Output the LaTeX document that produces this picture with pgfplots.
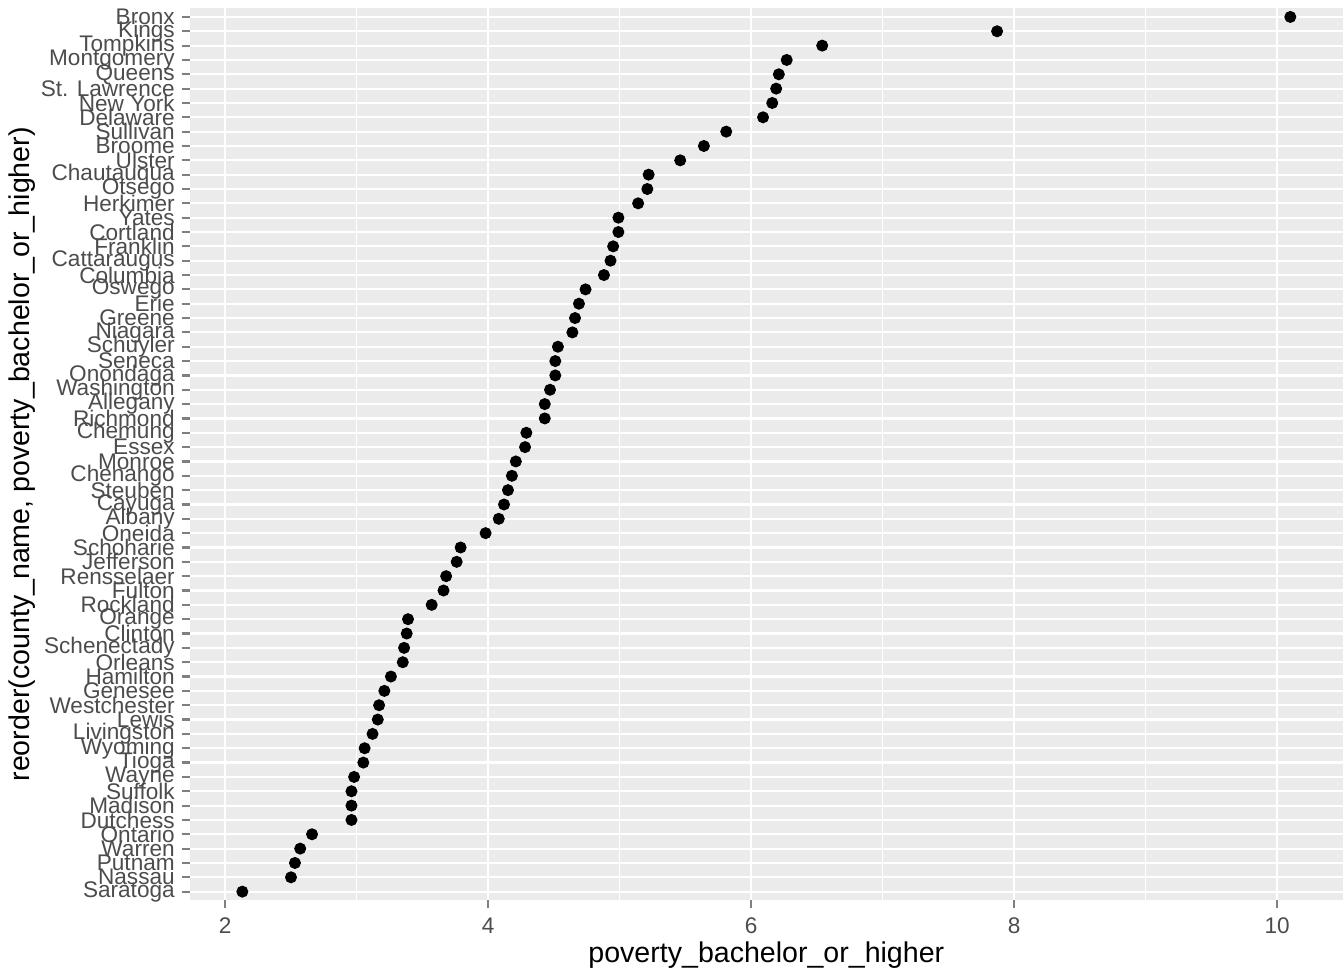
\documentclass[border=0pt]{standalone}
\usepackage{pgfplots}
\pgfplotsset{compat=1.18}
\usepackage{fontspec}
\setmainfont{Liberation Sans}
\definecolor{panel}{gray}{0.92}
\definecolor{tick}{gray}{0.30}
\begin{document}
\begin{tikzpicture}
\begin{axis}[
  scale only axis, width=423.75pt, height=327.75pt,
  xmin=1.73, xmax=10.50, ymin=0.4, ymax=62.6,
  axis background/.style={fill=panel},
  axis line style={draw=none},
  xtick={2,4,6,8,10}, minor xtick={3,5,7,9},
  xtick pos=bottom, ytick pos=left,
  ytick={1,...,62},
  yticklabels={Saratoga,Nassau,Putnam,Warren,Ontario,Dutchess,Madison,Suffolk,Wayne,Tioga,Wyoming,Livingston,Lewis,Westchester,Genesee,Hamilton,Orleans,Schenectady,Clinton,Orange,Rockland,Fulton,Rensselaer,Jefferson,Schoharie,Oneida,Albany,Cayuga,Steuben,Chenango,Monroe,Essex,Chemung,Richmond,Allegany,Washington,Onondaga,Seneca,Schuyler,Niagara,Greene,Erie,Oswego,Columbia,Cattaraugus,Franklin,Cortland,Yates,Herkimer,Otsego,Chautauqua,Ulster,Broome,Sullivan,Delaware,New York,St. Lawrence,Queens,Montgomery,Tompkins,Kings,Bronx},
  grid=both,
  major grid style={white, line width=0.8pt},
  minor grid style={white, line width=0.4pt},
  tick style={tick, line width=0.8pt}, major tick length=3pt, minor tick length=0pt,
  tick align=outside,
  ticklabel style={font=\fontsize{8.3}{9}\selectfont, text=tick},
  yticklabel style={xshift=1pt},
  /pgf/number format/assume math mode=true,
  xlabel={poverty\_bachelor\_or\_higher},
  ylabel={reorder(county\_name, poverty\_bachelor\_or\_higher)},
  label style={font=\fontsize{10.5}{12}\selectfont},
  xlabel style={yshift=4pt},
  ylabel style={yshift=-5pt},
]
\addplot[only marks, mark=*, mark size=2pt, black] coordinates {
(2.13,1)(2.50,2)(2.53,3)(2.57,4)(2.66,5)(2.96,6)(2.96,7)(2.96,8)(2.98,9)(3.05,10)
(3.06,11)(3.12,12)(3.16,13)(3.17,14)(3.21,15)(3.26,16)(3.35,17)(3.36,18)(3.38,19)(3.39,20)
(3.57,21)(3.66,22)(3.68,23)(3.76,24)(3.79,25)(3.98,26)(4.08,27)(4.12,28)(4.15,29)(4.18,30)
(4.21,31)(4.28,32)(4.29,33)(4.43,34)(4.43,35)(4.47,36)(4.51,37)(4.51,38)(4.53,39)(4.64,40)
(4.66,41)(4.69,42)(4.74,43)(4.88,44)(4.93,45)(4.95,46)(4.99,47)(4.99,48)(5.14,49)(5.21,50)
(5.22,51)(5.46,52)(5.64,53)(5.81,54)(6.09,55)(6.16,56)(6.19,57)(6.21,58)(6.27,59)(6.54,60)
(7.87,61)(10.10,62)};
\end{axis}
\end{tikzpicture}
\end{document}
